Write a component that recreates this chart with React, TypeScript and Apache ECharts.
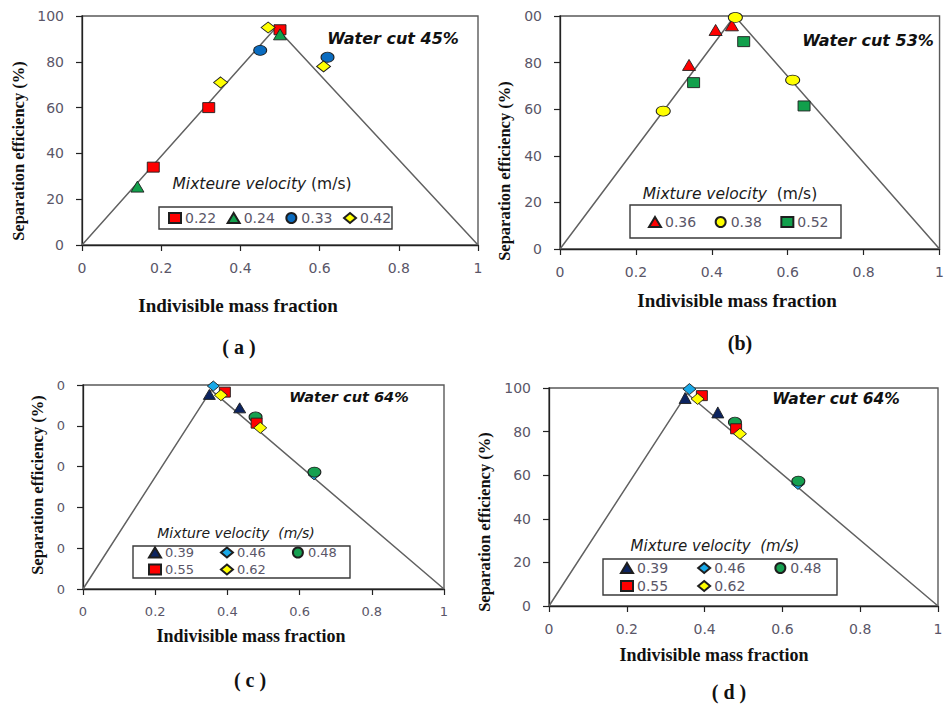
import React, { useEffect, useRef } from "react";
import * as echarts from "echarts";

// ---- tick labels ----
const xTickLabels = ["0", "0.2", "0.4", "0.6", "0.8", "1"];
const yTickLabelsA = ["0", "20", "40", "60", "80", "100"];
const yTickLabelsB = ["0", "20", "40", "60", "80", "00"];
const yTickLabelsC = ["0", "0", "0", "0", "0", "0"];
const yTickLabelsD = ["0", "20", "40", "60", "80", "100"];

// ---- theoretical curves [x, y] ----
const curveA = [[0, 0], [0.49, 95], [1, 0]];
const curveB = [[0, 0], [0.46, 100], [1, 0]];
const curveCD = [[0, 0], [0.355, 97.5], [1, 0]];

// ---- (a) water cut 45% ----
const legendA = ["0.22", "0.24", "0.33", "0.42"];
const a022 = [[0.18, 34], [0.32, 60], [0.5, 94]];
const a024 = [[0.14, 25.5], [0.5, 92]];
const a033 = [[0.45, 85], [0.62, 82]];
const a042 = [[0.35, 71], [0.47, 95], [0.61, 78]];

// ---- (b) water cut 53% ----
const legendB = ["0.36", "0.38", "0.52"];
const b036 = [[0.34, 79], [0.41, 94], [0.453, 96]];
const b038 = [[0.272, 59.2], [0.462, 99.4], [0.613, 72.5]];
const b052 = [[0.352, 71.4], [0.484, 89], [0.643, 61.4]];

// ---- (c) and (d) water cut 64% ----
const legendCDrow1 = ["0.39", "0.46", "0.48"];
const legendCDrow2 = ["0.55", "0.62"];
const cd039 = [[0.35, 95.4], [0.434, 88.8]];
const cd046 = [[0.361, 99.5], [0.64, 56]];
const cd048 = [[0.478, 84.3], [0.641, 57.3]];
const cd055 = [[0.393, 96.5], [0.481, 81.3]];
const cd062 = [[0.382, 95], [0.491, 79]];

const LABEL_COLOR = "#5a5668";
const SANS = "DejaVu Sans";
const SERIF = "Liberation Serif";

const grids = [
  { left: 82, top: 16, width: 396, height: 229 },
  { left: 560, top: 16, width: 386, height: 233 },
  { left: 83, top: 385, width: 361, height: 204 },
  { left: 549, top: 388, width: 389, height: 218 },
];
const yLabelSets = [yTickLabelsA, yTickLabelsB, yTickLabelsC, yTickLabelsD];
const tickFont = [14, 14, 13, 14];

function xAxisFor(i: number) {
  return {
    type: "value",
    gridIndex: i,
    min: 0,
    max: 1,
    interval: 0.2,
    splitLine: { show: false },
    axisLine: { show: true, onZero: false, lineStyle: { color: "#222", width: 1.3 } },
    axisTick: { show: true, length: 6, lineStyle: { color: "#222", width: 1.2 } },
    axisLabel: {
      color: LABEL_COLOR,
      fontFamily: SANS,
      fontSize: tickFont[i],
      margin: 16,
      formatter: (v: number) => xTickLabels[Math.round(v / 0.2)] ?? "",
    },
  };
}
function yAxisFor(i: number) {
  return {
    type: "value",
    gridIndex: i,
    min: 0,
    max: 100,
    interval: 20,
    splitLine: { show: false },
    axisLine: { show: true, onZero: false, lineStyle: { color: "#222", width: 1.3 } },
    axisTick: { show: true, length: 6, lineStyle: { color: "#222", width: 1.2 } },
    axisLabel: {
      color: LABEL_COLOR,
      fontFamily: SANS,
      fontSize: tickFont[i],
      margin: 18,
      formatter: (v: number) => yLabelSets[i][Math.round(v / 20)] ?? "",
    },
  };
}

function curve(i: number, data: number[][]) {
  return {
    type: "line",
    name: "curve" + i,
    xAxisIndex: i,
    yAxisIndex: i,
    data,
    showSymbol: false,
    symbol: "none",
    lineStyle: { color: "#616161", width: 1.5 },
    z: 1,
    silent: true,
  };
}

function pts(i: number, name: string, data: number[][], symbol: string, size: number[], color: string) {
  return {
    type: "scatter",
    name,
    xAxisIndex: i,
    yAxisIndex: i,
    data,
    symbol,
    symbolSize: size,
    itemStyle: { color, borderColor: "#1e1e1e", borderWidth: 0.9, opacity: 1 },
    z: 3,
  };
}

function legendRow(names: string[], left: number, centerY: number, gap: number, fontSize: number) {
  return {
    data: names,
    left,
    top: centerY - Math.round(fontSize / 2),
    orient: "horizontal",
    itemGap: gap,
    itemWidth: 12,
    itemHeight: 10,
    padding: 0,
    selectedMode: false,
    textStyle: { color: LABEL_COLOR, fontSize, fontFamily: SANS, padding: [0, 0, 0, -1] },
  };
}

function txt(x: number, y: number, text: string, font: string, extra: any = {}) {
  return {
    type: "text",
    x,
    y,
    rotation: extra.rotation ?? 0,
    z: 10,
    style: {
      text,
      font,
      fill: extra.fill ?? "#111",
      align: "center",
      verticalAlign: "middle",
      textAlign: "center",
      textVerticalAlign: "middle",
      rich: extra.rich,
    },
  };
}

function box(x: number, y: number, w: number, h: number) {
  return {
    type: "rect",
    z: 0,
    shape: { x, y, width: w, height: h },
    style: { fill: "transparent", stroke: "#3a3a3a", lineWidth: 1.4 },
  };
}

function velocityText(x: number, y: number, label: string, size: number, italicUnits: boolean) {
  const base = { fontFamily: SANS, fontSize: size, fill: "#1a1a1a", color: "#1a1a1a" };
  return txt(x, y, `{i|${label}} {${italicUnits ? "i" : "n"}|(m/s)}`, `${size}px ${SANS}`, {
    rich: {
      i: { ...base, fontStyle: "italic" },
      n: { ...base, fontStyle: "normal" },
    },
  });
}

const option = {
  animation: false,
  backgroundColor: "#ffffff",
  grid: grids.map((g) => ({ ...g, show: true, borderColor: "#5a5a5a", borderWidth: 1.4, backgroundColor: "transparent" })),
  xAxis: [0, 1, 2, 3].map(xAxisFor),
  yAxis: [0, 1, 2, 3].map(yAxisFor),
  legend: [
    legendRow(legendA, 168, 218, 10.5, 14),
    legendRow(legendB, 648, 222, 18.5, 14),
    legendRow(legendCDrow1, 148, 553, 26, 13),
    legendRow(legendCDrow2, 148, 570, 26, 13),
    legendRow(legendCDrow1, 620, 568, 29, 14),
    legendRow(legendCDrow2, 620, 586, 29, 14),
  ],
  series: [
    curve(0, curveA),
    pts(0, "0.22", a022, "rect", [12, 10], "#ff0000"),
    pts(0, "0.24", a024, "triangle", [13, 11], "#12a04c"),
    pts(0, "0.33", a033, "circle", [13, 10], "#0a6cc0"),
    pts(0, "0.42", a042, "diamond", [14, 11], "#ffff00"),

    curve(1, curveB),
    pts(1, "0.36", b036, "triangle", [13, 11], "#ff0000"),
    pts(1, "0.38", b038, "circle", [14, 10], "#ffff00"),
    pts(1, "0.52", b052, "rect", [12, 10], "#12a04c"),

    curve(2, curveCD),
    pts(2, "0.39", cd039, "triangle", [12, 10], "#0c2460"),
    pts(2, "0.46", cd046, "diamond", [12, 10], "#19a9e8"),
    pts(2, "0.48", cd048, "circle", [13, 10], "#16a050"),
    pts(2, "0.55", cd055, "rect", [11, 10], "#ff0000"),
    pts(2, "0.62", cd062, "diamond", [13, 11], "#ffff00"),

    curve(3, curveCD),
    pts(3, "0.39", cd039, "triangle", [12, 11], "#0c2460"),
    pts(3, "0.46", cd046, "diamond", [13, 11], "#19a9e8"),
    pts(3, "0.48", cd048, "circle", [13, 10], "#16a050"),
    pts(3, "0.55", cd055, "rect", [11, 10], "#ff0000"),
    pts(3, "0.62", cd062, "diamond", [13, 11], "#ffff00"),
  ],
  graphic: [
    // legend frames
    box(159, 207, 233, 22),
    box(630, 205, 211, 33),
    box(133, 546, 217, 32),
    box(603, 559, 234, 36),
    // water cut titles
    txt(393, 38, "Water cut 45%", `italic bold 16px ${SANS}`),
    txt(868, 40, "Water cut 53%", `italic bold 16px ${SANS}`),
    txt(349, 397, "Water cut 64%", `italic bold 14.5px ${SANS}`),
    txt(836, 399, "Water cut 64%", `italic bold 15.5px ${SANS}`),
    // mixture velocity captions
    velocityText(262, 184, "Mixteure velocity", 15.5, false),
    velocityText(730, 194, "Mixture velocity ", 15.5, false),
    velocityText(236, 533, "Mixture velocity ", 14, true),
    velocityText(715, 546, "Mixture velocity ", 15, true),
    // y axis titles
    txt(18, 151, "Separation efficiency (%)", `bold 16.5px ${SERIF}`, { rotation: Math.PI / 2 }),
    txt(504, 171, "Separation efficiency (%)", `bold 16.5px ${SERIF}`, { rotation: Math.PI / 2 }),
    txt(37, 485, "Separation efficiency (%)", `bold 16.5px ${SERIF}`, { rotation: Math.PI / 2 }),
    txt(484, 522, "Separation efficiency (%)", `bold 16.5px ${SERIF}`, { rotation: Math.PI / 2 }),
    // x axis titles
    txt(238, 305, "Indivisible mass fraction", `bold 19px ${SERIF}`),
    txt(737, 300, "Indivisible mass fraction", `bold 19px ${SERIF}`),
    txt(251, 636, "Indivisible mass fraction", `bold 18px ${SERIF}`),
    txt(714, 655, "Indivisible mass fraction", `bold 18px ${SERIF}`),
    // panel letters
    txt(239, 347, "( a )", `bold 20px ${SERIF}`),
    txt(740, 343, "(b)", `bold 20px ${SERIF}`),
    txt(250, 680, "( c )", `bold 20px ${SERIF}`),
    txt(729, 692, "( d )", `bold 20px ${SERIF}`),
  ],
};

export default function App() {
  const ref = useRef<HTMLDivElement>(null);
  useEffect(() => {
    const chart = echarts.init(ref.current as HTMLDivElement, null, { renderer: "svg" });
    chart.setOption(option as any);
    return () => chart.dispose();
  }, []);
  return (
    <div
      ref={ref}
      style={{ position: "fixed", left: 0, top: 0, width: 947, height: 706, background: "#fff" }}
    />
  );
}
